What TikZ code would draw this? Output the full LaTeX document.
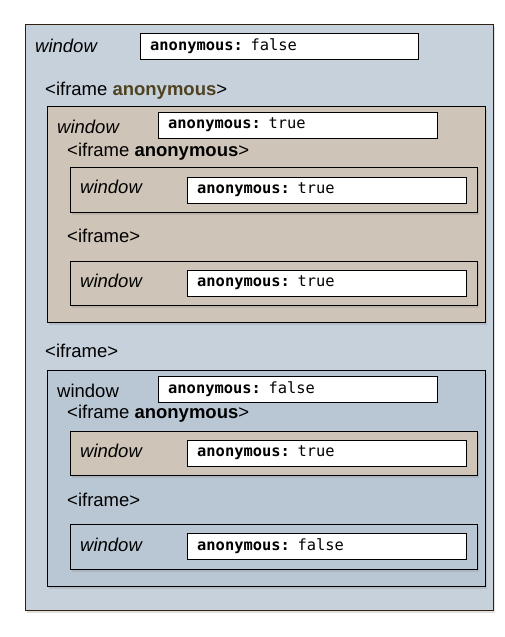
\documentclass[tikz,border=0pt]{standalone}
\usepackage{fontspec}
\setmainfont{Liberation Sans}
\newfontfamily\codefont{DejaVu Sans Mono}
\usetikzlibrary{shadows}

\definecolor{outerblue}{HTML}{C6D1DC}
\definecolor{innerblue}{HTML}{B9C7D5}
\definecolor{tanbox}{HTML}{CFC4B8}
\definecolor{anonbrown}{HTML}{4F4220}

\begin{document}
\begin{tikzpicture}[x=1pt, y=-1pt,
    frame/.style={draw, anchor=north west, inner sep=0pt,
        drop shadow={opacity=0.25, shadow xshift=2pt, shadow yshift=-3pt}},
    valuebox/.style={draw, fill=white, anchor=west, inner xsep=10pt, inner ysep=0pt,
        text width=#1, minimum height=26pt, align=left,
        font=\codefont\fontsize{15.4}{18}\selectfont},
    lbl/.style={anchor=base west, inner sep=0pt, font=\fontsize{18.5}{22}\selectfont}
]
            \useasboundingbox (0,0) rectangle (504,637);

            % frames
            \node (top) at (25,24) [frame, draw=black!75!brown, fill=outerblue, minimum width=468pt, minimum height=586pt] {};
            \node (anonframe) at (47,106) [frame, fill=tanbox, minimum width=438pt, minimum height=216pt] {};
            \node (anonA) at (70,167) [frame, fill=tanbox, minimum width=407pt, minimum height=45pt] {};
            \node (anonB) at (70,261) [frame, fill=tanbox, minimum width=407pt, minimum height=44pt] {};
            \node (plainframe) at (47,370) [frame, fill=innerblue, minimum width=438pt, minimum height=216pt] {};
            \node (plainA) at (70,431) [frame, fill=tanbox, minimum width=407pt, minimum height=44pt] {};
            \node (plainB) at (70,524) [frame, fill=innerblue, minimum width=407pt, minimum height=45pt] {};

            % labels
            \node (topwin) at (35,52) [lbl] {\itshape window};
            \node (topif) at (45,95) [lbl] {<iframe \textbf{\color{anonbrown}anonymous}>};
            \node (anonwin) at (57,133) [lbl] {\itshape window};
            \node (anonifA) at (67,156) [lbl] {<iframe \textbf{anonymous}>};
            \node (anonAwin) at (80,193) [lbl] {\itshape window};
            \node (anonifB) at (67,242) [lbl] {<iframe>};
            \node (anonBwin) at (80,287) [lbl] {\itshape window};
            \node (plainif) at (45,357) [lbl] {<iframe>};
            \node (plainwin) at (57,397) [lbl] {window};
            \node (plainifA) at (67,418) [lbl] {<iframe \textbf{anonymous}>};
            \node (plainAwin) at (80,457) [lbl] {\itshape window};
            \node (plainifB) at (67,506) [lbl] {<iframe>};
            \node (plainBwin) at (80,551) [lbl] {\itshape window};

            % values
            \node (topval) at (140,46) [valuebox=258pt] {\textbf{anonymous:} false};
            \node (anonval) at (158,125) [valuebox=259pt] {\textbf{anonymous:} true};
            \node (anonAval) at (187,190) [valuebox=259pt] {\textbf{anonymous:} true};
            \node (anonBval) at (187,283) [valuebox=259pt] {\textbf{anonymous:} true};
            \node (plainval) at (158,389) [valuebox=259pt] {\textbf{anonymous:} false};
            \node (plainAval) at (187,453) [valuebox=259pt] {\textbf{anonymous:} true};
            \node (plainBval) at (187,546.5) [valuebox=259pt] {\textbf{anonymous:} false};
        \end{tikzpicture}
\end{document}
